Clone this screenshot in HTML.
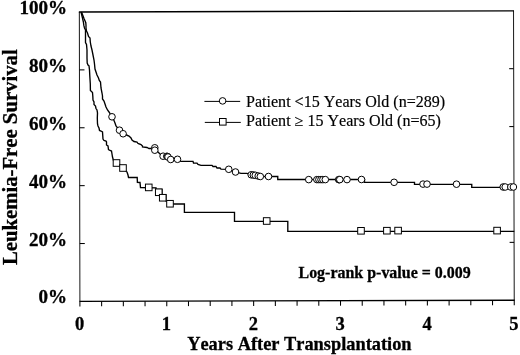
<!DOCTYPE html>
<html><head><meta charset="utf-8"><style>
html,body{margin:0;padding:0;background:#fff;width:520px;height:355px;overflow:hidden}
svg{display:block;will-change:transform}
text{font-family:"Liberation Serif",serif;fill:#000;stroke:#000;stroke-width:0.18px;font-kerning:none;font-feature-settings:"kern" 0}
.b{font-weight:bold;stroke:#000;stroke-width:0.3px}
</style></head><body>
<svg width="520" height="355" viewBox="0 0 520 355">

<g stroke="#000" stroke-width="1.05" fill="none" stroke-linecap="butt">
<path d="M79.35,12.0 L79.9,301.4 M513.5,10.8 L514.25,300.25" stroke="#222"/>
<path d="M78.85,12.0 L514.0,10.8 M79.4,301.4 L514.75,300.25" stroke-width="1.3"/>
<path d="M79.79,243.52 h5"/>
<path d="M514.10,242.36 h-4.5"/>
<path d="M79.68,185.64 h5"/>
<path d="M513.95,184.47 h-4.5"/>
<path d="M79.57,127.76 h5"/>
<path d="M513.80,126.58 h-4.5"/>
<path d="M79.46,69.88 h5"/>
<path d="M513.65,68.69 h-4.5"/>
<path d="M79.90,301.40 v5"/>
<path d="M101.62,301.34 v5"/>
<path d="M123.34,301.28 v5"/>
<path d="M145.05,301.23 v5"/>
<path d="M166.77,301.17 v5"/>
<path d="M188.49,301.11 v5"/>
<path d="M210.21,301.06 v5"/>
<path d="M231.92,301.00 v5"/>
<path d="M253.64,300.94 v5"/>
<path d="M275.36,300.88 v5"/>
<path d="M297.08,300.82 v5"/>
<path d="M318.79,300.77 v5"/>
<path d="M340.51,300.71 v5"/>
<path d="M362.23,300.65 v5"/>
<path d="M383.95,300.59 v5"/>
<path d="M405.66,300.54 v5"/>
<path d="M427.38,300.48 v5"/>
<path d="M449.10,300.42 v5"/>
<path d="M470.82,300.37 v5"/>
<path d="M492.53,300.31 v5"/>
<path d="M514.25,300.25 v5"/>
</g>
<polyline points="81.00,12.00 82.60,18.50 83.50,22.70 83.80,25.20 84.50,28.00 85.50,30.00 85.50,42.50 86.50,44.50 87.00,50.00 87.00,58.00 87.20,63.00 88.00,65.00 89.00,65.80 89.50,70.00 89.80,76.00 90.30,84.00 90.40,90.50 91.50,91.50 92.50,92.50 92.80,96.00 93.00,100.00 94.00,102.00 94.00,104.50 95.50,106.00 96.00,108.50 97.00,110.00 97.50,113.00 97.30,118.00 97.50,124.00 98.00,126.00 99.00,128.00 99.50,130.50 101.00,131.00 102.50,132.00 103.00,139.00 104.00,140.50 106.00,141.00 106.50,142.00 106.50,145.00 108.00,146.00 108.50,149.50 110.00,150.50 111.50,151.00 112.00,154.00 112.50,157.00 113.50,160.50 116.50,163.00 120.00,165.00 123.00,168.00 126.00,171.00 127.00,172.00 128.00,175.00 128.50,177.50 137.20,177.50 137.40,182.30 140.00,182.50 140.50,187.50 156.00,187.80 156.00,189.50 162.00,189.50 162.00,195.00 166.00,195.00 166.00,201.00 173.50,204.00 184.40,204.00 184.40,212.40 234.50,212.40 234.50,221.30 287.80,221.30 287.80,231.40 514.30,231.40" fill="none" stroke="#000" stroke-width="1.35" stroke-linejoin="miter"/>
<polyline points="81.50,12.00 84.00,18.50 85.80,22.70 86.00,25.20 86.00,28.00 86.50,31.00 87.50,33.00 88.50,36.50 90.00,38.00 90.30,42.00 91.00,46.00 92.00,50.00 93.00,55.00 94.00,60.00 94.50,64.00 95.00,69.00 96.00,72.00 97.00,75.00 98.50,78.00 99.30,80.50 100.50,82.00 101.00,88.00 102.00,93.00 102.50,96.00 102.50,99.00 104.00,101.00 105.00,104.00 106.00,107.00 107.50,110.00 109.00,112.00 112.00,116.80 114.00,120.50 115.00,123.00 116.00,126.00 119.50,130.20 123.10,133.75 126.50,135.00 129.00,136.00 131.00,138.00 132.00,140.00 134.00,141.50 137.00,142.00 138.00,143.50 141.00,144.50 142.50,146.00 142.50,147.00 147.00,147.50 149.00,148.50 151.00,148.50 154.90,149.00 158.00,152.00 160.00,154.00 163.00,156.00 166.50,157.50 170.60,159.50 177.50,159.25 180.50,161.40 193.00,161.40 193.50,163.00 197.00,163.20 198.00,164.50 201.00,165.30 212.00,165.30 213.00,166.50 216.00,166.50 217.00,168.00 220.00,168.00 221.00,169.20 228.75,169.30 235.50,172.00 239.00,172.80 241.00,173.30 247.00,173.30 251.20,174.80 253.30,175.00 255.30,175.30 258.20,176.00 260.30,176.50 277.75,176.50 277.75,179.50 364.50,179.50 364.50,182.40 414.50,182.40 414.50,184.30 471.75,184.30 471.75,187.40 514.30,187.40" fill="none" stroke="#000" stroke-width="1.35" stroke-linejoin="miter"/>
<g fill="#fff" stroke="#000" stroke-width="1.0">
<rect x="113.20" y="159.70" width="6.6" height="6.6"/>
<rect x="119.70" y="164.70" width="6.6" height="6.6"/>
<rect x="145.45" y="184.10" width="6.6" height="6.6"/>
<rect x="155.45" y="188.95" width="6.6" height="6.6"/>
<rect x="159.45" y="194.45" width="6.6" height="6.6"/>
<rect x="166.70" y="200.45" width="6.6" height="6.6"/>
<rect x="263.40" y="217.70" width="6.6" height="6.6"/>
<rect x="357.70" y="227.50" width="6.6" height="6.6"/>
<rect x="383.60" y="227.40" width="6.6" height="6.6"/>
<rect x="394.80" y="227.30" width="6.6" height="6.6"/>
<rect x="493.80" y="227.30" width="6.6" height="6.6"/>
<circle cx="112.00" cy="116.80" r="3.3"/>
<circle cx="119.50" cy="130.20" r="3.3"/>
<circle cx="123.10" cy="133.75" r="3.3"/>
<circle cx="154.80" cy="147.80" r="3.3"/>
<circle cx="154.80" cy="150.20" r="3.3"/>
<circle cx="163.10" cy="156.20" r="3.3"/>
<circle cx="166.80" cy="156.30" r="3.3"/>
<circle cx="167.40" cy="156.60" r="3.3"/>
<circle cx="168.00" cy="157.00" r="3.3"/>
<circle cx="170.70" cy="159.50" r="3.3"/>
<circle cx="177.50" cy="159.30" r="3.3"/>
<circle cx="228.75" cy="169.30" r="3.3"/>
<circle cx="235.50" cy="172.00" r="3.3"/>
<circle cx="251.20" cy="174.80" r="3.3"/>
<circle cx="253.30" cy="175.00" r="3.3"/>
<circle cx="255.30" cy="175.30" r="3.3"/>
<circle cx="258.20" cy="176.00" r="3.3"/>
<circle cx="260.30" cy="176.50" r="3.3"/>
<circle cx="268.50" cy="176.50" r="3.3"/>
<circle cx="308.75" cy="179.60" r="3.3"/>
<circle cx="316.90" cy="179.60" r="3.3"/>
<circle cx="318.90" cy="179.60" r="3.3"/>
<circle cx="321.00" cy="179.60" r="3.3"/>
<circle cx="322.90" cy="179.60" r="3.3"/>
<circle cx="325.30" cy="179.60" r="3.3"/>
<circle cx="338.70" cy="179.60" r="3.3"/>
<circle cx="339.20" cy="179.60" r="3.3"/>
<circle cx="339.80" cy="179.60" r="3.3"/>
<circle cx="347.00" cy="179.60" r="3.3"/>
<circle cx="361.50" cy="179.50" r="3.3"/>
<circle cx="394.10" cy="182.30" r="3.3"/>
<circle cx="423.00" cy="184.10" r="3.3"/>
<circle cx="427.00" cy="184.10" r="3.3"/>
<circle cx="456.50" cy="184.20" r="3.3"/>
<circle cx="503.20" cy="187.00" r="3.3"/>
<circle cx="505.20" cy="187.00" r="3.3"/>
<circle cx="510.80" cy="187.00" r="3.3"/>
<circle cx="513.40" cy="187.00" r="3.3"/>
</g>
<text class="b" transform="translate(67.1,14.20) scale(1.03,1)" font-size="18.5" text-anchor="end">100%</text>
<text class="b" transform="translate(67.1,72.04) scale(1.03,1)" font-size="18.5" text-anchor="end">80%</text>
<text class="b" transform="translate(67.1,129.88) scale(1.03,1)" font-size="18.5" text-anchor="end">60%</text>
<text class="b" transform="translate(67.1,187.72) scale(1.03,1)" font-size="18.5" text-anchor="end">40%</text>
<text class="b" transform="translate(67.1,245.56) scale(1.03,1)" font-size="18.5" text-anchor="end">20%</text>
<text class="b" transform="translate(67.1,303.40) scale(1.03,1)" font-size="18.5" text-anchor="end">0%</text>
<text class="b" transform="translate(79.60,329.5)" font-size="18.5" text-anchor="middle">0</text>
<text class="b" transform="translate(166.47,329.5)" font-size="18.5" text-anchor="middle">1</text>
<text class="b" transform="translate(253.34,329.5)" font-size="18.5" text-anchor="middle">2</text>
<text class="b" transform="translate(340.21,329.5)" font-size="18.5" text-anchor="middle">3</text>
<text class="b" transform="translate(427.08,329.5)" font-size="18.5" text-anchor="middle">4</text>
<text class="b" transform="translate(513.95,329.5)" font-size="18.5" text-anchor="middle">5</text>
<text class="b" transform="translate(187.2,349.6) scale(0.988,1)" font-size="18.6">Years After Transplantation</text>
<text class="b" transform="translate(16.5,157.2) rotate(-90) scale(1.011,1)" font-size="20.5" text-anchor="middle">Leukemia-Free Survival</text>
<text class="b" transform="translate(298.5,278) scale(1.004,1)" font-size="15.9">Log-rank p-value = 0.009</text>
<g stroke="#000" stroke-width="1.0" fill="none"><path d="M204.4,101.4 H240.2 M204.8,122.4 H240.8"/></g>
<circle cx="222.6" cy="100.9" r="3.3" fill="#fff" stroke="#000" stroke-width="1.0"/>
<rect x="219.5" y="118.5" width="6.6" height="6.6" fill="#fff" stroke="#000" stroke-width="1.0"/>
<text transform="translate(246,106.5) scale(1.011,1)" font-size="15.9">Patient &lt;15 Years Old (n=289)</text>
<text transform="translate(246,126) scale(1.011,1)" font-size="15.9">Patient ≥ 15 Years Old (n=65)</text>
</svg></body></html>
